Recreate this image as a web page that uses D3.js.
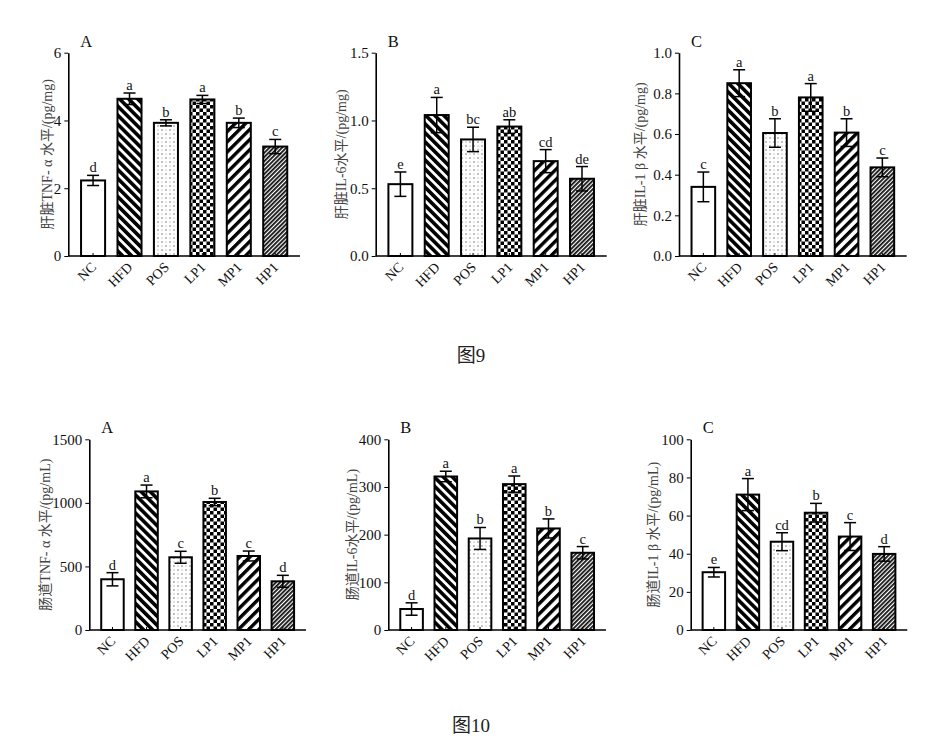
<!DOCTYPE html>
<html>
<head>
<meta charset="utf-8">
<script src="https://cdn.jsdelivr.net/npm/d3@7"></script>
<style>
  body { margin: 0; background: #fff; }
  svg { display: block; opacity: 0.999; -webkit-font-smoothing: antialiased; }
  .tick text { font-family: "Liberation Serif", "Times New Roman", serif; fill: #111; }
</style>
</head>
<body>
<svg id="chart" width="932" height="743"></svg>
<script>
// groups shared by all panels
let groups = ["NC", "HFD", "POS", "LP1", "MP1", "HP1"]

// Fig 9: liver
let liverTnf = [2.23, 4.64, 3.93, 4.62, 3.93, 3.23],
    liverTnfErr = [0.15, 0.17, 0.09, 0.12, 0.14, 0.21],
    liverTnfSig = ["d", "a", "b", "a", "b", "c"]
let liverIl6 = [0.53, 1.04, 0.86, 0.955, 0.70, 0.57],
    liverIl6Err = [0.09, 0.13, 0.09, 0.05, 0.085, 0.09],
    liverIl6Sig = ["e", "a", "bc", "ab", "cd", "de"]
let liverIl1 = [0.34, 0.85, 0.605, 0.78, 0.607, 0.436],
    liverIl1Err = [0.073, 0.066, 0.07, 0.068, 0.068, 0.046],
    liverIl1Sig = ["c", "a", "b", "a", "b", "c"]

// Fig 10: intestine
let gutTnf = [399, 1090, 572, 1007, 582, 383],
    gutTnfErr = [52, 50, 47, 29, 39, 47],
    gutTnfSig = ["d", "a", "c", "b", "c", "d"]
let gutIl6 = [44, 322, 192, 306, 213, 162],
    gutIl6Err = [13, 11, 23, 17, 20, 13],
    gutIl6Sig = ["d", "a", "b", "a", "b", "c"]
let gutIl1 = [30.3, 71, 46.3, 61.5, 49, 39.9],
    gutIl1Err = [2.5, 8.4, 4.7, 4.9, 7.3, 3.8],
    gutIl1Sig = ["e", "a", "cd", "b", "c", "d"]

let panels = [
  {tag: "A", label: "肝脏TNF- α 水平/(pg/mg)", values: liverTnf, err: liverTnfErr, sig: liverTnfSig,
   max: 6, ticks: [0, 2, 4, 6], fmt: d3.format("d"), x0: 68.3, x1: 300, top: 52.7, bottom: 256, lx: 47},
  {tag: "B", label: "肝脏IL-6水平/(pg/mg)", values: liverIl6, err: liverIl6Err, sig: liverIl6Sig,
   max: 1.5, ticks: [0, 0.5, 1, 1.5], fmt: d3.format(".1f"), x0: 375.7, x1: 606.7, top: 52.7, bottom: 256, lx: 341},
  {tag: "C", label: "肝脏IL-1 β 水平/(pg/mg)", values: liverIl1, err: liverIl1Err, sig: liverIl1Sig,
   max: 1, ticks: [0, 0.2, 0.4, 0.6, 0.8, 1], fmt: d3.format(".1f"), x0: 679, x1: 906.7, top: 52.7, bottom: 256, lx: 640},
  {tag: "A", label: "肠道TNF- α 水平/(pg/mL)", values: gutTnf, err: gutTnfErr, sig: gutTnfSig,
   max: 1500, ticks: [0, 500, 1000, 1500], fmt: d3.format("d"), x0: 89.3, x1: 306, top: 439.3, bottom: 630, lx: 45},
  {tag: "B", label: "肠道IL-6水平/(pg/mL)", values: gutIl6, err: gutIl6Err, sig: gutIl6Sig,
   max: 400, ticks: [0, 100, 200, 300, 400], fmt: d3.format("d"), x0: 388.3, x1: 606, top: 439.3, bottom: 630, lx: 352},
  {tag: "C", label: "肠道IL-1 β 水平/(pg/mL)", values: gutIl1, err: gutIl1Err, sig: gutIl1Sig,
   max: 100, ticks: [0, 20, 40, 60, 80, 100], fmt: d3.format("d"), x0: 690.7, x1: 907.3, top: 439.3, bottom: 630, lx: 653}
]

let svg = d3.select("#chart")

function make_patterns() {
  let defs = svg.append("defs")

  // HFD: thick "\" stripes
  let p = defs.append("pattern").attr("id", "p-HFD").attr("patternUnits", "userSpaceOnUse")
    .attr("width", 6.4).attr("height", 6.4).attr("patternTransform", "rotate(-45)")
  p.append("rect").attr("width", 6.4).attr("height", 6.4).attr("fill", "#fff")
  p.append("rect").attr("width", 3.6).attr("height", 6.4).attr("fill", "#000")

  // POS: sparse dots
  p = defs.append("pattern").attr("id", "p-POS").attr("patternUnits", "userSpaceOnUse")
    .attr("width", 8).attr("height", 8)
  p.append("rect").attr("width", 8).attr("height", 8).attr("fill", "#fff")
  p.append("circle").attr("cx", 2).attr("cy", 2).attr("r", 0.7).attr("fill", "#555")
  p.append("circle").attr("cx", 6).attr("cy", 6).attr("r", 0.7).attr("fill", "#555")
  p.append("circle").attr("cx", 6).attr("cy", 2).attr("r", 0.6).attr("fill", "#888")
  p.append("circle").attr("cx", 2).attr("cy", 6).attr("r", 0.6).attr("fill", "#888")

  // LP1: checkerboard
  let c = 3.5
  p = defs.append("pattern").attr("id", "p-LP1").attr("patternUnits", "userSpaceOnUse")
    .attr("width", c * 2).attr("height", c * 2)
  p.append("rect").attr("width", c * 2).attr("height", c * 2).attr("fill", "#fff")
  p.append("rect").attr("width", c).attr("height", c).attr("fill", "#000")
  p.append("rect").attr("x", c).attr("y", c).attr("width", c).attr("height", c).attr("fill", "#000")

  // MP1: wide "/" stripes
  p = defs.append("pattern").attr("id", "p-MP1").attr("patternUnits", "userSpaceOnUse")
    .attr("width", 7.2).attr("height", 7.2).attr("patternTransform", "rotate(45)")
  p.append("rect").attr("width", 7.2).attr("height", 7.2).attr("fill", "#fff")
  p.append("rect").attr("width", 3.4).attr("height", 7.2).attr("fill", "#000")

  // HP1: dense thin "/" stripes
  p = defs.append("pattern").attr("id", "p-HP1").attr("patternUnits", "userSpaceOnUse")
    .attr("width", 3).attr("height", 3).attr("patternTransform", "rotate(45)")
  p.append("rect").attr("width", 3).attr("height", 3).attr("fill", "#fff")
  p.append("rect").attr("width", 1.8).attr("height", 3).attr("fill", "#111")
}

function fill_for(g) {
  return g === "NC" ? "#fff" : `url(#p-${g})`
}

function draw_panel(cfg) {
  let x = d3.scaleBand().domain(groups).range([cfg.x0, cfg.x1])
    .paddingInner(0.34).paddingOuter(0.35)
  let y = d3.scaleLinear().domain([0, cfg.max]).range([cfg.bottom, cfg.top])
  let rows = groups.map((g, i) => ({g: g, v: cfg.values[i], e: cfg.err[i], s: cfg.sig[i]}))
  let gp = svg.append("g")

  gp.selectAll("rect.bar")
    .data(rows).enter()
    .append("rect")
    .attr("class", "bar")
    .attr("x", d => x(d.g))
    .attr("y", d => y(d.v))
    .attr("width", x.bandwidth())
    .attr("height", d => y(0) - y(d.v))
    .attr("fill", d => fill_for(d.g))
    .attr("stroke", "#000")
    .attr("stroke-width", 2)

  // error bars
  let eb = gp.selectAll("g.err").data(rows).enter().append("g")
    .attr("stroke", "#000").attr("stroke-width", 1.5)
  let cx = d => x(d.g) + x.bandwidth() / 2
  eb.append("line")
    .attr("x1", cx).attr("x2", cx)
    .attr("y1", d => y(d.v - d.e)).attr("y2", d => y(d.v + d.e))
  eb.append("line")
    .attr("x1", d => cx(d) - 6).attr("x2", d => cx(d) + 6)
    .attr("y1", d => y(d.v + d.e)).attr("y2", d => y(d.v + d.e))
  eb.append("line")
    .attr("x1", d => cx(d) - 6).attr("x2", d => cx(d) + 6)
    .attr("y1", d => y(d.v - d.e)).attr("y2", d => y(d.v - d.e))

  // significance letters
  gp.selectAll("text.sig").data(rows).enter()
    .append("text")
    .attr("x", cx)
    .attr("y", d => y(d.v + d.e) - 3)
    .attr("text-anchor", "middle")
    .attr("font-family", "Liberation Serif, serif")
    .attr("font-size", 14.5)
    .attr("fill", "#111")
    .text(d => d.s)

  // axes
  let ya = gp.append("g")
    .attr("transform", `translate(${cfg.x0},0)`)
    .call(d3.axisLeft(y).tickValues(cfg.ticks).tickFormat(cfg.fmt).tickSize(4).tickSizeOuter(0).tickPadding(3))
  ya.selectAll("text").attr("font-size", 15)
  ya.select(".domain").attr("stroke-width", 1.6)

  let xa = gp.append("g")
    .attr("transform", `translate(0,${cfg.bottom})`)
    .call(d3.axisBottom(x).tickSize(-3).tickSizeOuter(0))
  xa.select(".domain").attr("stroke-width", 1.6).attr("d", `M${cfg.x0},0H${cfg.x1}`)
  xa.selectAll("text")
    .attr("font-size", 14)
    .attr("text-anchor", "end")
    .attr("dy", null)
    .attr("y", 0)
    .attr("transform", "translate(4,12) rotate(-45)")

  // panel tag
  gp.append("text")
    .attr("x", cfg.x0 + 12)
    .attr("y", cfg.top - 6)
    .attr("font-family", "Liberation Serif, serif")
    .attr("font-size", 16.5)
    .attr("fill", "#111")
    .text(cfg.tag)

  // y label
  gp.append("text")
    .attr("transform", `translate(${cfg.lx},${(cfg.top + cfg.bottom) / 2}) rotate(-90)`)
    .attr("text-anchor", "middle")
    .attr("dy", "0.35em")
    .attr("font-family", "Liberation Serif, Noto Sans CJK SC, serif")
    .attr("font-size", 14)
    .attr("fill", "#444")
    .text(cfg.label)
}

make_patterns()
panels.forEach(draw_panel)

let captions = [{t: "图9", y: 362}, {t: "图10", y: 732}]
svg.selectAll("text.cap").data(captions).enter()
  .append("text")
  .attr("x", 471)
  .attr("y", d => d.y)
  .attr("text-anchor", "middle")
  .attr("font-family", "Liberation Serif, Noto Sans CJK SC, serif")
  .attr("font-size", 19)
  .attr("fill", "#222")
  .text(d => d.t)
</script>
</body>
</html>
